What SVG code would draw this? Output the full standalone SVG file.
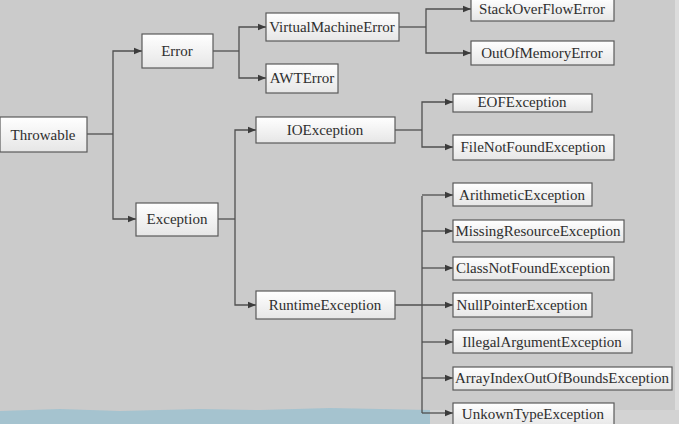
<svg xmlns="http://www.w3.org/2000/svg" width="679" height="424" viewBox="0 0 679 424">
<defs>
<linearGradient id="boxg" x1="0" y1="0" x2="0" y2="1">
<stop offset="0" stop-color="#ffffff"/>
<stop offset="1" stop-color="#e6e6e6"/>
</linearGradient>
<marker id="arr" viewBox="0 0 10 10" refX="10" refY="5" markerWidth="8" markerHeight="8" markerUnits="userSpaceOnUse" orient="auto">
<path d="M0,1 L10,5 L0,9 Z" fill="#3c3c3c"/>
</marker>
</defs>
<style>
.box{fill:url(#boxg);stroke:#5a5a5a;stroke-width:1.2}
.t{font-size:15px;fill:#2e2e2e;text-anchor:middle;dominant-baseline:central}
.c{fill:none;stroke:#505050;stroke-width:1.3}
.a{marker-end:url(#arr)}
</style>
<rect x="0" y="0" width="679" height="424" fill="#cbcbcb"/>
<rect x="675" y="0" width="4" height="424" fill="#dcdcdc"/>
<path d="M0,411 L60,409 L120,411 L200,409 L260,410 L330,408 L430,410 L430,424 L0,424 Z" fill="#a5c3cf"/>
<rect x="430" y="410" width="249" height="14" fill="#d3d3d3"/>
<g id="connectors">
<path class="c" d="M87,134 H113"/>
<path class="c a" d="M113,134 V51 H142"/>
<path class="c a" d="M113,134 V219 H136"/>
<path class="c" d="M213,51 H239"/>
<path class="c a" d="M239,51 V27 H266"/>
<path class="c a" d="M239,51 V78 H266"/>
<path class="c" d="M399,27 H426"/>
<path class="c a" d="M426,27 V9 H471"/>
<path class="c a" d="M426,27 V53 H471"/>
<path class="c" d="M218,219 H235"/>
<path class="c a" d="M235,219 V130 H256"/>
<path class="c a" d="M235,219 V305 H256"/>
<path class="c" d="M395,130 H422"/>
<path class="c a" d="M422,130 V102 H453"/>
<path class="c a" d="M422,130 V147 H453"/>
<path class="c" d="M422,196 V413"/>
<path class="c a" d="M422,195 H453"/>
<path class="c a" d="M422,231 H453"/>
<path class="c a" d="M422,268 H453"/>
<path class="c a" d="M395,305 H453"/>
<path class="c a" d="M422,342 H453"/>
<path class="c a" d="M422,378 H453"/>
<path class="c a" d="M422,413 H453"/>
</g>
<g font-family="Liberation Serif, Times New Roman, serif">
<g id="throwable"><rect class="box" x="0" y="117" width="87" height="35"/><text class="t" x="43" y="135">Throwable</text></g>
<g id="error"><rect class="box" x="142" y="34" width="71" height="34"/><text class="t" x="177" y="51">Error</text></g>
<g id="exception"><rect class="box" x="136" y="203" width="82" height="33"/><text class="t" x="177" y="219">Exception</text></g>
<g id="virtualmachineerror"><rect class="box" x="266" y="13" width="133" height="28"/><text class="t" x="332" y="27">VirtualMachineError</text></g>
<g id="awterror"><rect class="box" x="266" y="64" width="72" height="29"/><text class="t" x="302" y="78">AWTError</text></g>
<g id="stackoverflowerror"><rect class="box" x="471" y="-2" width="143" height="23"/><text class="t" x="542" y="9">StackOverFlowError</text></g>
<g id="outofmemoryerror"><rect class="box" x="471" y="41" width="143" height="24"/><text class="t" x="542" y="53">OutOfMemoryError</text></g>
<g id="ioexception"><rect class="box" x="256" y="117" width="139" height="26"/><text class="t" x="325" y="130">IOException</text></g>
<g id="runtimeexception"><rect class="box" x="256" y="291" width="139" height="28"/><text class="t" x="325" y="305">RuntimeException</text></g>
<g id="eofexception"><rect class="box" x="453" y="94" width="139" height="18"/><text class="t" x="522" y="102">EOFException</text></g>
<g id="filenotfoundexception"><rect class="box" x="453" y="135" width="161" height="25"/><text class="t" x="533" y="147">FileNotFoundException</text></g>
<g id="arithmeticexception"><rect class="box" x="453" y="183" width="139" height="23"/><text class="t" x="522" y="195">ArithmeticException</text></g>
<g id="missingresourceexception"><rect class="box" x="453" y="220" width="171" height="22"/><text class="t" x="538" y="231">MissingResourceException</text></g>
<g id="classnotfoundexception"><rect class="box" x="453" y="257" width="161" height="23"/><text class="t" x="533" y="268">ClassNotFoundException</text></g>
<g id="nullpointerexception"><rect class="box" x="453" y="293" width="139" height="24"/><text class="t" x="522" y="305">NullPointerException</text></g>
<g id="illegalargumentexception"><rect class="box" x="453" y="330" width="179" height="23"/><text class="t" x="542" y="342">IllegalArgumentException</text></g>
<g id="arrayindexoutofboundsexception"><rect class="box" x="453" y="367" width="219" height="23"/><text class="t" x="562" y="378">ArrayIndexOutOfBoundsException</text></g>
<g id="unkowntypeexception"><rect class="box" x="453" y="403" width="161" height="24"/><text class="t" x="533" y="414">UnkownTypeException</text></g>
</g>
</svg>
